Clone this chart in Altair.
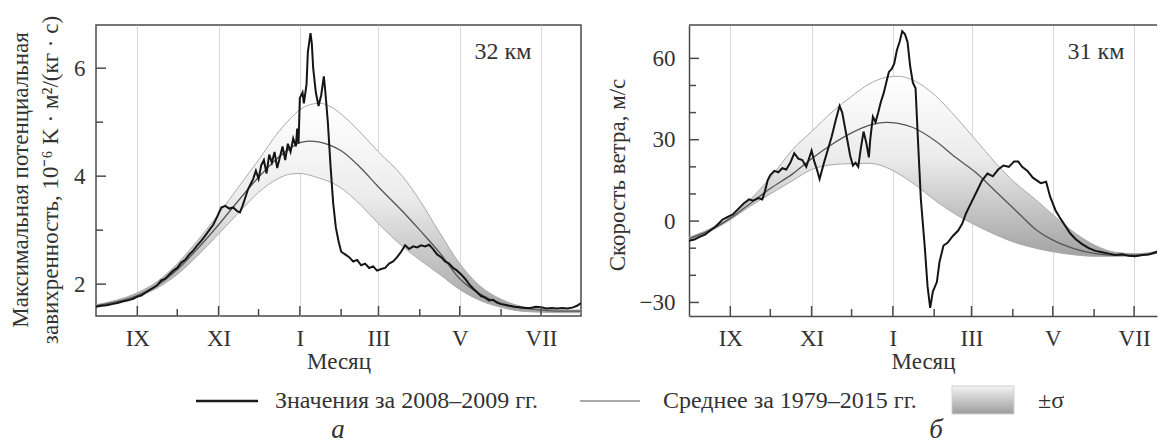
import altair as alt
import pandas as pd

# ---------------- data ----------------
month_days = [31, 92, 153, 212, 273, 334]
month_labels = ["IX", "XI", "I", "III", "V", "VII"]
minor_month_days = [61, 122, 184, 243, 304]

# panel a: max potential vorticity, 32 km
band_days_a = [0, 15, 31, 46, 61, 76, 92, 107, 122, 137, 146, 153, 160, 168, 175, 184,
               198, 212, 230, 243, 258, 273, 288, 304, 319, 334, 349, 364]
upper_a = [1.62, 1.7, 1.84, 2.05, 2.38, 2.8, 3.3, 3.8, 4.3, 4.82, 5.07, 5.23, 5.32, 5.35,
           5.3, 5.15, 4.82, 4.45, 4.0, 3.55, 2.95, 2.38, 1.97, 1.72, 1.59, 1.54, 1.52, 1.52]
mean_a = [1.6, 1.67, 1.79, 1.98, 2.27, 2.65, 3.1, 3.55, 3.98, 4.35, 4.52, 4.62, 4.65, 4.63,
          4.58, 4.47, 4.17, 3.8, 3.35, 3.0, 2.58, 2.1, 1.82, 1.64, 1.56, 1.52, 1.5, 1.5]
lower_a = [1.58, 1.65, 1.76, 1.93, 2.18, 2.52, 2.93, 3.32, 3.7, 3.96, 4.04, 4.05, 4.02, 3.96,
           3.9, 3.78, 3.48, 3.12, 2.7, 2.45, 2.18, 1.9, 1.7, 1.57, 1.5, 1.48, 1.47, 1.47]
obs_days_a = [0, 4, 8, 12, 16, 20, 24, 28,
              31, 34, 37, 40, 43, 46, 49, 52, 55, 58, 61, 64, 67, 70, 73, 76, 79, 82, 85, 88, 91,
              94, 97, 100, 103, 106,
              108, 110, 112, 114, 116, 118, 120, 122, 124, 126, 128, 130, 132, 134, 136, 138,
              140, 142, 144, 146, 148, 150, 151, 152,
              153, 155, 156, 158, 159, 161, 162, 163, 165, 167, 169, 171, 172, 174, 176, 178,
              180, 182, 184,
              187, 190, 193, 196, 199, 202, 205, 208, 211, 214, 217, 220, 223, 226, 229, 232,
              235, 238, 241, 244, 247, 250, 253, 256, 259, 262, 265, 268, 271, 274, 277, 280,
              283, 286, 289, 292, 295, 298, 301, 304,
              307, 310,
              314, 318, 322, 326, 330, 334, 338, 342, 346, 350, 354, 358,
              361, 364]
obs_a = [1.58, 1.6, 1.61, 1.63, 1.65, 1.68, 1.7, 1.73,
         1.77, 1.79, 1.84, 1.89, 1.93, 1.98, 2.07, 2.1, 2.18, 2.25, 2.3, 2.4, 2.45, 2.55, 2.62,
         2.72, 2.8, 2.9, 3.0, 3.1, 3.25,
         3.42, 3.45, 3.4, 3.42, 3.35,
         3.33, 3.45, 3.6, 3.75, 3.85, 3.95, 4.1, 3.95, 4.2, 4.3, 4.05, 4.4, 4.25, 4.45, 4.15,
         4.35, 4.55, 4.3, 4.6, 4.45, 4.7, 4.55, 4.88, 4.6,
         5.45, 5.55, 5.35, 5.7, 6.3, 6.65, 6.45, 6.0, 5.55, 5.3, 5.5, 5.85, 5.6, 5.0, 4.2, 3.5,
         3.05, 2.8, 2.6,
         2.55, 2.5, 2.42, 2.45, 2.35, 2.38, 2.3, 2.33, 2.25, 2.28, 2.3, 2.38, 2.42, 2.5, 2.6,
         2.72, 2.65, 2.7, 2.68, 2.72, 2.7, 2.73, 2.65, 2.55, 2.5, 2.42, 2.38, 2.3, 2.25, 2.18,
         2.1, 2.0, 1.92, 1.85, 1.78, 1.75, 1.7, 1.71, 1.66, 1.63,
         1.62, 1.6,
         1.58, 1.57, 1.56, 1.56, 1.58, 1.57, 1.55, 1.56, 1.55, 1.56, 1.55, 1.57,
         1.6, 1.65]

# panel b: wind speed, 31 km
band_days_b = [0, 15, 31, 46, 61, 78, 92, 108, 122, 135, 148, 157, 168, 185, 200, 215, 230,
               245, 260, 275, 290, 305, 320, 335, 350, 364]
upper_b = [-6, -3, 1.5, 8, 16, 26.5, 33, 40.5, 46, 50.5, 53, 53.4, 52, 46.2, 38.5, 30, 21.5,
           14, 8, 1.5, -4.5, -9, -11.5, -12, -11.3, -9.8]
mean_b = [-6.5, -3.5, 1, 6.5, 12, 17.5, 23, 28.5, 32.5, 35.3, 36.4, 36, 34.5, 29.5, 23.5, 18,
          11, 4, -3, -7.5, -10.3, -12, -12.6, -12.6, -11.8, -10]
lower_b = [-7, -4, 0.5, 5.5, 10, 15, 19, 20.8, 21.2, 21.3, 19.8, 17.5, 14, 7.5, 2.5, -1.5, -5,
           -8, -10, -11.5, -12.5, -13, -13, -12.9, -12, -10.3]
obs_days_b = [0, 4, 8, 12, 16, 20, 25, 29, 33, 37, 41, 45, 48, 52, 55, 57, 59, 61,
              64, 67, 70, 73, 76, 79, 82, 85, 88, 90, 92, 94, 96, 98, 101, 104, 107, 110, 113,
              115, 118, 121, 123, 125, 127, 129, 131, 133, 135, 136, 138, 140, 142, 144, 146,
              148, 150, 152, 154, 156, 158, 160, 162, 164, 166, 168, 170, 172, 174,
              177, 179, 181, 183, 186, 188, 191, 194, 198, 202, 205, 208, 212, 216, 220, 224,
              228, 232, 236, 240, 244, 247, 250, 254, 258, 261, 264, 268, 271, 275, 278, 282,
              286, 290, 295,
              300, 305, 310, 315, 320, 325, 330, 335, 340, 345, 350, 355, 360, 364]
obs_b = [-7.3, -6.8, -5.8, -5, -3.5, -2, 0.5, 1.5, 2.5, 4.5, 6.5, 8, 7.5, 8.5, 8, 11, 15, 17,
         18.5, 18, 19.5, 19, 21.5, 25, 23, 22.5, 20, 23, 26, 22, 19, 15.5, 21, 26, 31, 37, 42.5,
         40, 32, 24, 20.5, 21.5, 20, 27, 33, 29, 23.5, 30, 38.5, 36.5, 40, 44, 47,
         51, 55, 56, 58, 63, 66, 70, 69, 66, 57, 51, 49, 28, 8,
         -10, -24, -32, -26, -22.5, -15, -9, -8, -5.5, -3.5, -1, 3, 7, 11, 15, 17.5,
         16.5, 19, 20.5, 20, 22, 22, 20, 18.5, 16, 15, 14, 14.5, 9, 4, 1.5, -1.5,
         -4.5, -6.6, -8.5,
         -10, -11, -11.5, -12, -12.5, -12.2, -12.8, -13, -12.5, -12.3, -11.5, -10.5, -9.8, -9.5]

title_a = ["Максимальная потенциальная", "завихренность, 10⁻⁶ K · м²/(кг · с)"]
title_b = "Скорость ветра, м/с"
legend_labels = ["Значения за 2008–2009 гг.", "Среднее за 1979–2015 гг.", "±σ"]
panel_tags = ["а", "б"]

# ---------------- style ----------------
FONT = "Liberation Serif"
TXT = "#333333"
FRAME = "#4a4a4a"
H = 291

band_fill = alt.LinearGradient(
    gradient="linear",
    stops=[alt.GradientStop(color="#ffffff", offset=0),
           alt.GradientStop(color="#ececec", offset=0.45),
           alt.GradientStop(color="#a2a2a2", offset=1)],
    x1=0, x2=0, y1=0, y2=1)
legend_fill = alt.LinearGradient(
    gradient="linear",
    stops=[alt.GradientStop(color="#f4f4f4", offset=0),
           alt.GradientStop(color="#9c9c9c", offset=1)],
    x1=0, x2=0, y1=0, y2=1)


def roman_expr():
    expr = "''"
    for d, lab in zip(month_days, month_labels):
        expr = f"datum.value == {d} ? '{lab}' : ({expr})"
    return expr


def panel(band_days, lo, mid, up, obs_days, obs_vals, xmax, width, ydom, ymaj, ymin,
          ytitle, tag, lab_pad, title_pad, title_y, full_frame):
    band = pd.DataFrame({"day": band_days, "lo": lo, "mid": mid, "up": up})
    obs = pd.DataFrame({"day": obs_days, "v": obs_vals})
    xs = alt.Scale(domain=[0, xmax], nice=False, zero=False)
    ys = alt.Scale(domain=ydom, nice=False, zero=False)
    xaxis = alt.Axis(values=month_days, labelExpr=roman_expr(), title="Месяц", grid=True,
                     gridColor="#d9d9d9", gridWidth=1, ticks=False,
                     domain=not full_frame, domainColor=FRAME, domainWidth=1.5,
                     labelPadding=11, titlePadding=0, labelFlush=False,
                     labelFontSize=23, titleFontSize=23)
    yaxis = alt.Axis(values=ymaj, title=ytitle, grid=False, ticks=False,
                     domain=not full_frame, domainColor=FRAME, domainWidth=1.5,
                     labelPadding=lab_pad, titlePadding=title_pad, titleLineHeight=30,
                     labelFontSize=23, titleFontSize=23, titleY=title_y)
    X = alt.X("day:Q", scale=xs, axis=xaxis)

    area = alt.Chart(band).mark_area(color=band_fill, interpolate="monotone",
                                     clip=True).encode(
        x=X, y=alt.Y("lo:Q", scale=ys, axis=yaxis), y2="up:Q")
    up_line = alt.Chart(band).mark_line(color="#aaaaaa", strokeWidth=1,
                                        interpolate="monotone", clip=True).encode(
        x=X, y=alt.Y("up:Q", scale=ys, axis=yaxis))
    lo_line = alt.Chart(band).mark_line(color="#aaaaaa", strokeWidth=1,
                                        interpolate="monotone", clip=True).encode(
        x=X, y=alt.Y("lo:Q", scale=ys, axis=yaxis))
    mid_line = alt.Chart(band).mark_line(color="#555555", strokeWidth=1.3,
                                         interpolate="monotone", clip=True).encode(
        x=X, y=alt.Y("mid:Q", scale=ys, axis=yaxis))
    obs_line = alt.Chart(obs).mark_line(color="#151515", strokeWidth=2, clip=True).encode(
        x=X, y=alt.Y("v:Q", scale=ys, axis=yaxis))

    xt_major = alt.Chart(pd.DataFrame({"day": month_days})).mark_rule(
        color=FRAME, strokeWidth=1.5).encode(x=X, y=alt.value(H), y2=alt.value(H - 10))
    xt_minor = alt.Chart(pd.DataFrame({"day": minor_month_days})).mark_rule(
        color=FRAME, strokeWidth=1.5).encode(x=X, y=alt.value(H), y2=alt.value(H - 7))
    yt_major = alt.Chart(pd.DataFrame({"t": ymaj})).mark_rule(
        color=FRAME, strokeWidth=1.5).encode(
        y=alt.Y("t:Q", scale=ys, axis=yaxis), x=alt.value(0), x2=alt.value(10))
    yt_minor = alt.Chart(pd.DataFrame({"t": ymin})).mark_rule(
        color=FRAME, strokeWidth=1.5).encode(
        y=alt.Y("t:Q", scale=ys, axis=yaxis), x=alt.value(0), x2=alt.value(7))
    note = alt.Chart(pd.DataFrame({"t": [tag]})).mark_text(
        font=FONT, fontSize=24, color=TXT, align="center", baseline="middle").encode(
        x=alt.value(407), y=alt.value(27), text="t:N")

    layers = [area, up_line, lo_line, mid_line, obs_line,
              xt_major, xt_minor, yt_major, yt_minor, note]
    if full_frame:
        view = alt.ViewBackground(stroke=FRAME, strokeWidth=1.5)
    else:
        # open on the right, like the cropped right-hand panel of the reference
        top_line = alt.Chart(pd.DataFrame({"k": [0]})).mark_rule(
            color=FRAME, strokeWidth=1.5).encode(
            x=alt.value(0), x2=alt.value(width), y=alt.value(0))
        layers.append(top_line)
        view = alt.ViewBackground(stroke="transparent")
    return alt.layer(*layers).properties(width=width, height=H, view=view)


left = panel(band_days_a, lower_a, mean_a, upper_a, obs_days_a, obs_a, 364, 485,
             [1.41, 6.8], [2, 4, 6], [3, 5], title_a, "32 км", 11, 11, H / 2 + 9, True)
right = panel(band_days_b, lower_b, mean_b, upper_b, obs_days_b, obs_b, 351.2, 468,
              [-35, 72.3], [-30, 0, 30, 60], [-20, -10, 10, 20, 40, 50], title_b, "31 км",
              14, 10, H / 2 + 4, False)

# ---------------- legend row (positions relative to left plot origin) ----------------
one = pd.DataFrame({"k": [0]})
leg_y = 33
leg_layers = [
    alt.Chart(one).mark_rule(color="#1a1a1a", strokeWidth=2.5).encode(
        x=alt.value(100), x2=alt.value(162), y=alt.value(leg_y - 7)),
    alt.Chart(pd.DataFrame({"t": [legend_labels[0]]})).mark_text(
        font=FONT, fontSize=24, color=TXT, align="left", baseline="alphabetic").encode(
        x=alt.value(179), y=alt.value(leg_y), text="t:N"),
    alt.Chart(one).mark_rule(color="#555555", strokeWidth=1.2).encode(
        x=alt.value(484), x2=alt.value(544), y=alt.value(leg_y - 7)),
    alt.Chart(pd.DataFrame({"t": [legend_labels[1]]})).mark_text(
        font=FONT, fontSize=24, color=TXT, align="left", baseline="alphabetic").encode(
        x=alt.value(567), y=alt.value(leg_y), text="t:N"),
    alt.Chart(one).mark_rect(color=legend_fill, stroke="#d0d0d0", strokeWidth=1).encode(
        x=alt.value(856), x2=alt.value(918), y=alt.value(leg_y - 22), y2=alt.value(leg_y + 6)),
    alt.Chart(pd.DataFrame({"t": [legend_labels[2]]})).mark_text(
        font=FONT, fontSize=24, color=TXT, align="left", baseline="alphabetic").encode(
        x=alt.value(942), y=alt.value(leg_y), text="t:N"),
    alt.Chart(pd.DataFrame({"t": [panel_tags[0]]})).mark_text(
        font=FONT, fontSize=27, fontStyle="italic", color=TXT, align="center",
        baseline="alphabetic").encode(x=alt.value(242), y=alt.value(63), text="t:N"),
    alt.Chart(pd.DataFrame({"t": [panel_tags[1]]})).mark_text(
        font=FONT, fontSize=27, fontStyle="italic", color=TXT, align="center",
        baseline="alphabetic").encode(x=alt.value(840), y=alt.value(63), text="t:N"),
]
legend_row = alt.layer(*leg_layers).properties(
    width=1000, height=64, view=alt.ViewBackground(stroke="transparent"))

chart = alt.vconcat(
    alt.hconcat(left, right, spacing=23),
    legend_row,
    spacing=0,
).properties(
    padding={"left": 0, "top": 6, "right": 0, "bottom": 0},
    background="white",
).configure_view(stroke="transparent").configure_axis(
    labelFont=FONT, labelColor=TXT,
    titleFont=FONT, titleFontWeight="normal", titleColor=TXT,
)

chart.save("out.html", embed_options={"renderer": "svg", "actions": False})
